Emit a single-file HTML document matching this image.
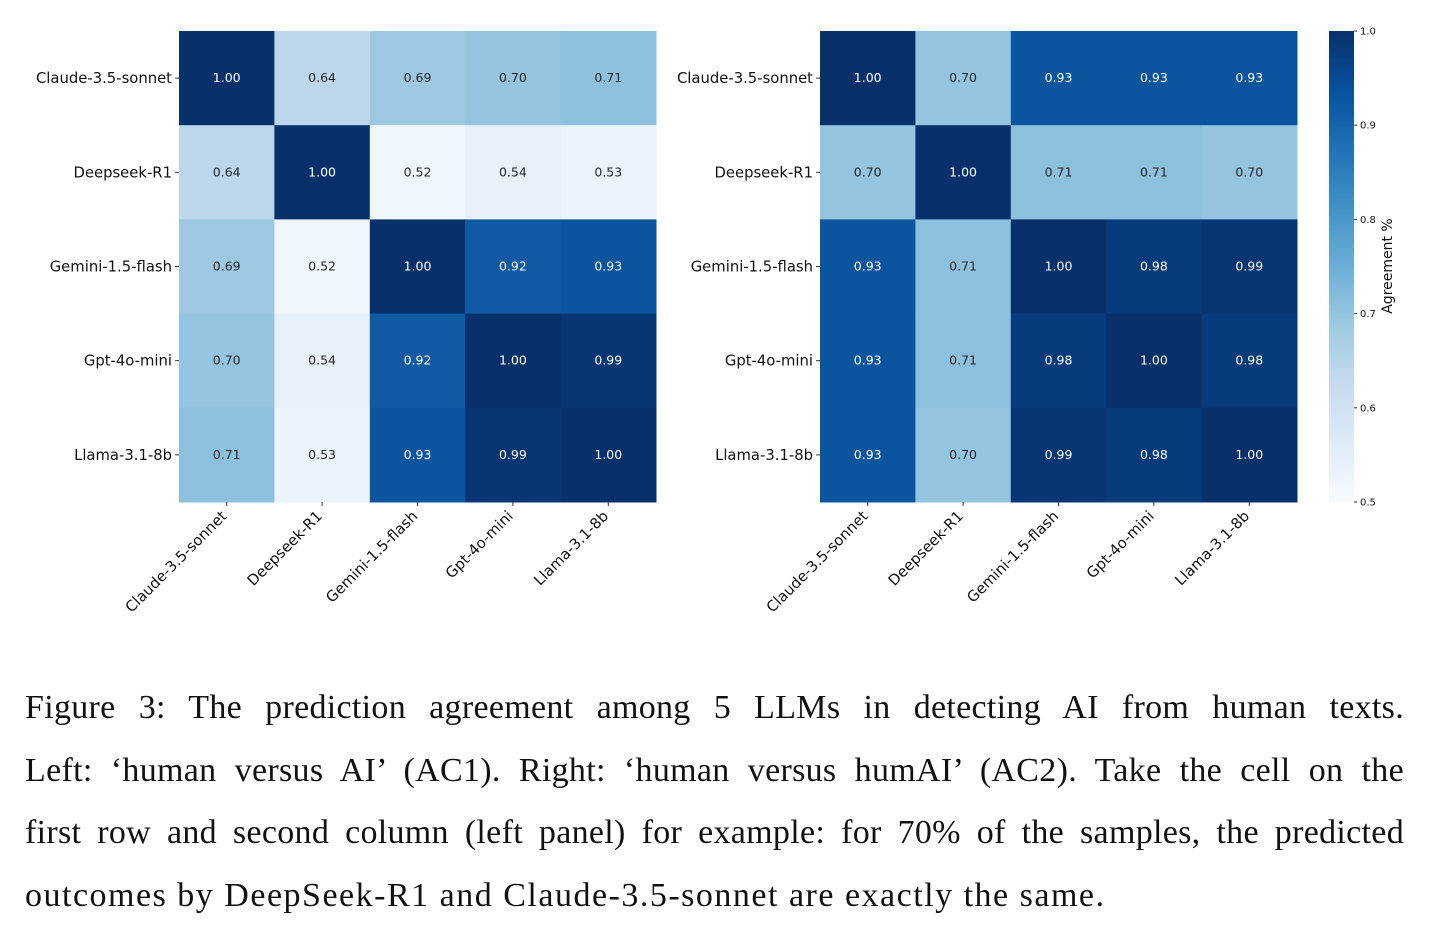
<!DOCTYPE html>
<html><head><meta charset="utf-8">
<style>
body{margin:0;background:#fff;width:1441px;height:924px;overflow:hidden;position:relative}
svg{position:absolute;left:0;top:0}
#caption{position:absolute;left:25px;top:677px;width:1379px;font-family:"Liberation Serif",serif;font-size:34px;line-height:62.5px;color:#111}
#caption .ln{display:block;text-align:justify;text-align-last:justify;white-space:nowrap;letter-spacing:0.3px}
#caption .ln.last{text-align-last:left;letter-spacing:1.5px}
</style></head><body>
<svg id="chart" width="1441" height="680"></svg>
<div id="caption"><span class="ln">Figure 3: The prediction agreement among 5 LLMs in detecting AI from human texts.</span><span class="ln">Left: ‘human versus AI’ (AC1). Right: ‘human versus humAI’ (AC2). Take the cell on the</span><span class="ln">first row and second column (left panel) for example: for 70% of the samples, the predicted</span><span class="ln last">outcomes by DeepSeek-R1 and Claude-3.5-sonnet are exactly the same.</span></div>
<script>
const models = ["Claude-3.5-sonnet","Deepseek-R1","Gemini-1.5-flash","Gpt-4o-mini","Llama-3.1-8b"];
const leftValues = [
 [1.00,0.64,0.69,0.70,0.71],
 [0.64,1.00,0.52,0.54,0.53],
 [0.69,0.52,1.00,0.92,0.93],
 [0.70,0.54,0.92,1.00,0.99],
 [0.71,0.53,0.93,0.99,1.00]];
const rightValues = [
 [1.00,0.70,0.93,0.93,0.93],
 [0.70,1.00,0.71,0.71,0.70],
 [0.93,0.71,1.00,0.98,0.99],
 [0.93,0.71,0.98,1.00,0.98],
 [0.93,0.70,0.99,0.98,1.00]];
const cbTicks = [0.5,0.6,0.7,0.8,0.9,1.0];
const vmin=0.5, vmax=1.0;

const NS="http://www.w3.org/2000/svg";
const svg=document.getElementById('chart');
const stops=["#f7fbff","#deebf7","#c6dbef","#9ecae1","#6baed6","#4292c6","#2171b5","#08519c","#08306b"].map(h=>[parseInt(h.slice(1,3),16),parseInt(h.slice(3,5),16),parseInt(h.slice(5,7),16)]);
function blues(v){let t=Math.max(0,Math.min(1,(v-vmin)/(vmax-vmin)))*(stops.length-1);let i=Math.min(Math.floor(t),stops.length-2),f=t-i;const c=stops[i].map((a,k)=>Math.round(a+(stops[i+1][k]-a)*f));return `rgb(${c})`;}
function el(tag,attrs,parent){const e=document.createElementNS(NS,tag);for(const k in attrs)e.setAttribute(k,attrs[k]);(parent||svg).appendChild(e);return e;}
const font='"DejaVu Sans","Liberation Sans",sans-serif';

function heatmap(x0,values,name){
  const y0=31,w=477,h=471,n=models.length,cw=w/n,ch=h/n;
  const g=el('g',{});
  
  
  values.forEach((row,r)=>row.forEach((v,c)=>{
    const rc=el('rect',{x:x0+c*cw,y:y0+r*ch,width:cw+0.5,height:ch+0.5,fill:blues(v)},g);
    
    
    const t=el('text',{x:x0+(c+.5)*cw,y:y0+(r+.5)*ch+4,'text-anchor':'middle','font-size':12.5,'font-family':font,fill:v>0.8?'#fff':'#262626'},g);
    t.textContent=v.toFixed(2);
    
    
  }));
  models.forEach((m,i)=>{
    const yc=y0+(i+.5)*ch;
    el('line',{x1:x0-4,x2:x0,y1:yc,y2:yc,stroke:'#333'},g);
    const t=el('text',{x:x0-7,y:yc+5,'text-anchor':'end','font-size':14.8,'font-family':font,fill:'#111'},g);
    t.textContent=m;
    
    
    const xc=x0+(i+.5)*cw;
    el('line',{x1:xc,x2:xc,y1:y0+h,y2:y0+h+4,stroke:'#333'},g);
    const tx=el('text',{x:xc+1,y:y0+h+15,'text-anchor':'end','font-size':14.8,'font-family':font,fill:'#111',transform:`rotate(-45 ${xc+1} ${y0+h+15})`},g);
    tx.textContent=m;
    
    
  });
}
heatmap(179,leftValues,'left-heatmap');
heatmap(820,rightValues,'right-heatmap');

const cbx=1329,cby=31,cbw=25,cbh=471;
const defs=el('defs',{});
const lg=el('linearGradient',{id:'cbg',x1:0,y1:1,x2:0,y2:0},defs);
stops.forEach((s,i)=>el('stop',{offset:i/(stops.length-1),'stop-color':`rgb(${s})`},lg));
const cb=el('rect',{x:cbx,y:cby,width:cbw,height:cbh,fill:'url(#cbg)'});


cbTicks.forEach(v=>{
  const y=cby+cbh*(1-(v-vmin)/(vmax-vmin));
  el('line',{x1:cbx+cbw,x2:cbx+cbw+3,y1:y,y2:y,stroke:'#333'});
  const t=el('text',{x:cbx+cbw+6,y:y+3.5,'font-size':10,'font-family':font,fill:'#111'});
  t.textContent=v.toFixed(1);
  
  
});
const ct=el('text',{x:1392,y:266,'text-anchor':'middle','font-size':14,'font-family':font,fill:'#111',transform:'rotate(-90 1392 266)'});
ct.textContent='Agreement %';


</script>
</body></html>
